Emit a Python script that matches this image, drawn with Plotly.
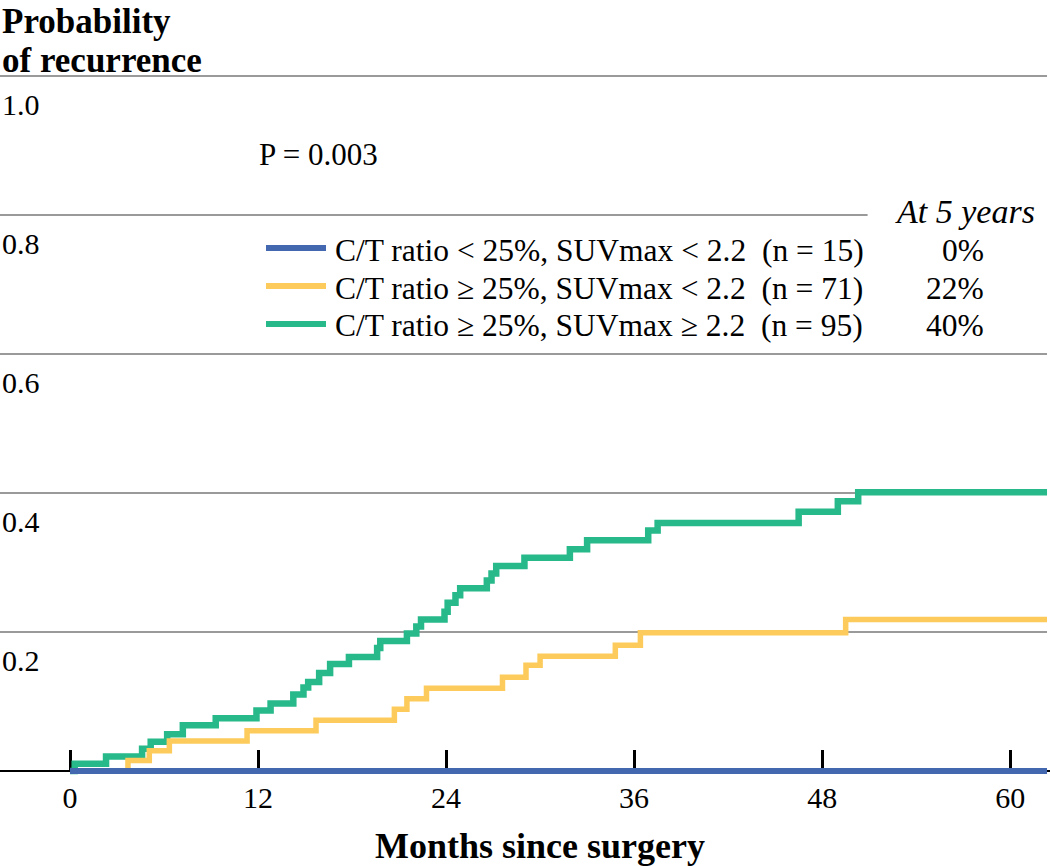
import plotly.graph_objects as go

# ---------------- data ----------------
months_ticks = [0, 12, 24, 36, 48, 60]
y_grid = [0.2, 0.4, 0.6, 0.8, 1.0]
y_tick_labels = ["0.2", "0.4", "0.6", "0.8", "1.0"]

blue_t = [0, 62.35]
blue_p = [0, 0]

yellow_t = [0, 3.7, 5.06, 6.34, 11.3, 15.7, 20.7, 21.5, 22.75, 27.6, 29.1, 30.0,
            34.8, 36.4, 49.5, 62.35]
yellow_p = [0, 0.015, 0.029, 0.043, 0.058, 0.073, 0.089, 0.104, 0.119, 0.135,
            0.152, 0.165, 0.181, 0.199, 0.218, 0.218]

green_t = [0, 0.3, 2.3, 4.6, 5.15, 6.2, 7.2, 9.3, 11.9, 12.8, 14.25, 14.9, 15.2,
           15.9, 16.6, 17.8, 19.6, 19.8, 21.5, 22.1, 22.4, 23.9, 24.1, 24.6, 24.9,
           26.6, 26.9, 27.2, 29.0, 31.9, 33.0, 36.9, 37.5, 46.5, 49.0, 50.3, 62.35]
green_p = [0, 0.0105, 0.021, 0.032, 0.042, 0.053, 0.066, 0.076, 0.087, 0.097,
           0.110, 0.120, 0.128, 0.141, 0.154, 0.164, 0.177, 0.187, 0.198, 0.208,
           0.218, 0.229, 0.242, 0.253, 0.263, 0.274, 0.284, 0.295, 0.307, 0.319,
           0.332, 0.346, 0.357, 0.373, 0.388, 0.401, 0.401]

series_names = [
    "C/T ratio < 25%, SUVmax < 2.2\u00a0\u00a0(n = 15)",
    "C/T ratio \u2265 25%, SUVmax < 2.2\u00a0\u00a0(n = 71)",
    "C/T ratio \u2265 25%, SUVmax \u2265 2.2\u00a0\u00a0(n = 95)",
]
at5 = ["0%", "22%", "40%"]

# ---------------- style ----------------
BLUE = "#4468B0"
YELLOW = "#FCCB5B"
GREEN = "#27B98A"
GRID = "#9A9A9A"
FONT = "Liberation Serif"
BODY = 31.5

W, H = 1050, 866
PLOT_TOP, PLOT_BOT = 60, 790
X_MIN, X_MAX = -70 / 15.67, (W - 70) / 15.67
Y_MIN, Y_MAX = (771 - PLOT_BOT) / 695, (771 - PLOT_TOP) / 695


def px(x):
    return x / W


def py(y):
    return (PLOT_BOT - y) / (PLOT_BOT - PLOT_TOP)


fig = go.Figure()
fig.add_trace(go.Scatter(x=green_t, y=green_p, mode="lines", line_shape="hv",
                         line=dict(color=GREEN, width=6.5), showlegend=False))
fig.add_trace(go.Scatter(x=yellow_t, y=yellow_p, mode="lines", line_shape="hv",
                         line=dict(color=YELLOW, width=5.5), showlegend=False))
fig.add_trace(go.Scatter(x=blue_t, y=blue_p, mode="lines", line_shape="hv",
                         line=dict(color=BLUE, width=6), showlegend=False))

shapes = []
for g in y_grid:
    x_end = 50.9 if g == 0.8 else 62.35
    shapes.append(dict(type="line", xref="x", yref="y", x0=X_MIN, x1=x_end,
                       y0=g, y1=g, line=dict(color=GRID, width=2), layer="below"))

annotations = []
for g, lab in zip(y_grid, y_tick_labels):
    annotations.append(dict(xref="paper", yref="y", x=px(0), y=g, yshift=-28,
                            text=lab, showarrow=False, xanchor="left",
                            yanchor="middle",
                            font=dict(family=FONT, size=30, color="black")))

# y title
annotations.append(dict(xref="paper", yref="paper", x=px(0), y=py(0),
                        text="<b>Probability</b>", showarrow=False,
                        xanchor="left", yanchor="top",
                        font=dict(family=FONT, size=35, color="black")))
annotations.append(dict(xref="paper", yref="paper", x=px(0), y=py(39),
                        text="<b>of recurrence</b>", showarrow=False,
                        xanchor="left", yanchor="top",
                        font=dict(family=FONT, size=35, color="black")))
# x title
annotations.append(dict(xref="paper", yref="paper", x=px(540), y=py(868),
                        text="<b>Months since surgery</b>", showarrow=False,
                        xanchor="center", yanchor="bottom",
                        font=dict(family=FONT, size=36, color="black")))
# P value
annotations.append(dict(xref="paper", yref="paper", x=px(257), y=py(155),
                        text="P = 0.003", showarrow=False,
                        xanchor="left", yanchor="middle",
                        font=dict(family=FONT, size=31, color="black")))
# At 5 years header
annotations.append(dict(xref="paper", yref="paper", x=px(1037), y=py(211),
                        text="<i>At 5 years</i>", showarrow=False,
                        xanchor="right", yanchor="middle",
                        font=dict(family=FONT, size=34, color="black")))

# legend
row_y = [248, 286, 324]
for name, pct, col, ry in zip(series_names, at5, [BLUE, YELLOW, GREEN], row_y):
    shapes.append(dict(type="line", xref="paper", yref="paper",
                       x0=px(266), x1=px(326), y0=py(ry), y1=py(ry),
                       line=dict(color=col, width=6)))
    annotations.append(dict(xref="paper", yref="paper", x=px(333), y=py(ry + 2),
                            text=name, showarrow=False, xanchor="left",
                            yanchor="middle",
                            font=dict(family=FONT, size=BODY, color="black")))
    annotations.append(dict(xref="paper", yref="paper", x=px(986), y=py(ry + 2),
                            text=pct, showarrow=False, xanchor="right",
                            yanchor="middle",
                            font=dict(family=FONT, size=BODY, color="black")))

fig.update_layout(
    width=W, height=H,
    margin=dict(l=0, r=0, t=PLOT_TOP, b=H - PLOT_BOT, autoexpand=False),
    paper_bgcolor="white", plot_bgcolor="white",
    shapes=shapes, annotations=annotations,
    xaxis=dict(range=[X_MIN, X_MAX], anchor="free",
               position=(PLOT_BOT - 771) / (PLOT_BOT - PLOT_TOP),
               showline=True, linecolor="black", linewidth=2,
               ticks="inside", ticklen=20, tickwidth=2.5, tickcolor="black",
               tickvals=months_ticks, ticktext=[str(m) for m in months_ticks],
               tickfont=dict(family=FONT, size=30, color="black"),
               ticklabelstandoff=0,
               showgrid=False, zeroline=False, layer="below traces",
               fixedrange=True),
    yaxis=dict(range=[Y_MIN, Y_MAX], visible=False, showgrid=False,
               zeroline=False, fixedrange=True),
    font=dict(family=FONT, color="black"),
)

fig.write_html("out.html", config={"displayModeBar": False},
               post_script="document.body.style.margin='0';")
